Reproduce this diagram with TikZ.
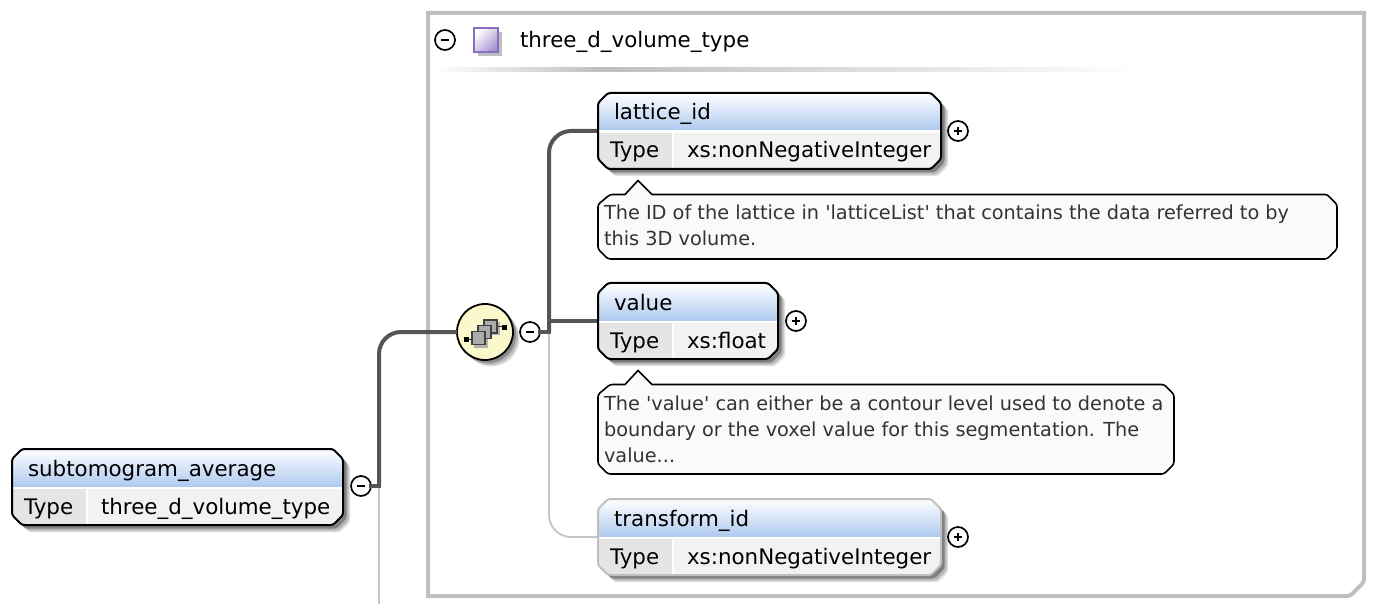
\documentclass[tikz,border=0pt]{standalone}
\usepackage{fontspec}
\setmainfont{DejaVu Sans}
\usetikzlibrary{calc}
\definecolor{frame}{HTML}{BFBFBF}
\definecolor{conn}{HTML}{555555}
\definecolor{connlight}{HTML}{C4C4C4}
\definecolor{headblue}{HTML}{AFCAF0}
\definecolor{celldark}{HTML}{E5E5E5}
\definecolor{celllight}{HTML}{F2F2F2}
\definecolor{docfill}{HTML}{FAFAFA}
\definecolor{doctext}{HTML}{333333}
\definecolor{compfill}{HTML}{FBF8CC}
\definecolor{purpleb}{HTML}{8A6FC0}
\newcommand{\titlefont}{\fontsize{21.4}{25}\selectfont}
\newcommand{\docfont}{\fontsize{19.3}{26}\selectfont}
\newcommand{\sq}{\textquotesingle}
\tikzset{
  anchorbox/.style={inner sep=0pt,outer sep=0pt,draw=none},
  label text/.style={anchor=base west,inner sep=0pt,outer sep=0pt,text=black,font=\titlefont},
  doc text/.style={anchor=base west,inner sep=0pt,outer sep=0pt,text=doctext,font=\docfont},
  toggle/.style={circle,draw=black,line width=1.7pt,fill=white,minimum size=20pt,inner sep=0pt,outer sep=0pt},
  strong link/.style={draw=conn,line width=4pt},
  weak link/.style={draw=connlight,line width=1.8pt},
  icon cell/.style={draw=black!75,line width=1.6pt,fill=black!33},
}
% name, x0, y0, x1, divider x, title, type, border colour
\newcommand{\elembox}[8]{%
  \def\octa{[rounded corners=2.5pt] (#2+10,#3) -- (#4-10,#3) -- (#4,#3+10) -- (#4,#3+66) -- (#4-10,#3+76)
     -- (#2+10,#3+76) -- (#2,#3+66) -- (#2,#3+10) -- cycle}%
  \fill[black!13,shift={(7pt,-7pt)}] \octa;
  \fill[black!28,shift={(5.5pt,-5.5pt)}] \octa;
  \fill[black!50,shift={(3.5pt,-3.5pt)}] \octa;
  \begin{scope}
    \clip \octa;
    \fill[white] (#2,#3) rectangle (#4,#3+76);
    \shade[top color=white,bottom color=headblue] (#2,#3) rectangle (#4,#3+37);
    \fill[celldark] (#2,#3+40) rectangle (#5-1,#3+76);
    \fill[celllight] (#5+1,#3+40) rectangle (#4,#3+76);
  \end{scope}
  \draw[draw=#8,line width=2pt] \octa;
  \node[anchorbox,minimum width=#4-#2,minimum height=76] (#1) at ({(#2+#4)/2},#3+38) {};
  \node[label text] (#1-title) at (#2+16,#3+27) {#6};
  \node[label text] (#1-key) at (#2+12,#3+65) {Type};
  \node[label text] (#1-type) at (#5+14,#3+65) {#7};
}
% name, x0, y0, x1, y1, apex x
\newcommand{\docbox}[6]{%
  \draw[fill=docfill,draw=black,line width=1.6pt,line join=round]
    (#6+14,#3) [rounded corners=2.5pt] -- (#4-10,#3) -- (#4,#3+10)
    -- (#4,#5-10) -- (#4-10,#5) -- (#2+10,#5) -- (#2,#5-10)
    -- (#2,#3+10) -- (#2+12,#3) [sharp corners] -- (#6-13,#3) -- (#6,#3-14) -- cycle;
  \node[anchorbox,minimum width=#4-#2,minimum height=#5-#3] (#1) at ({(#2+#4)/2},{(#3+#5)/2}) {};
}
\newcommand{\togglesign}[2]{\draw[black,line width=1.7pt] ($(#1)+(-4,0)$) -- ($(#1)+(4,0)$);
  \ifnum#2=1 \draw[black,line width=1.7pt] ($(#1)+(0,-4)$) -- ($(#1)+(0,4)$);\fi}
\begin{document}
\begin{tikzpicture}[x=1pt,y=-1pt]
\useasboundingbox (0,0) rectangle (1374,604);
\fill[white] (0,0) rectangle (1374,604);

% group frame
\draw[frame,line width=4pt] (428,13) -- (1364,13) [rounded corners=3pt] -- (1364,582) -- (1350,596) [sharp corners] -- (428,596) -- cycle;
\node[anchorbox,minimum width=936,minimum height=583] (group) at (896,304.5) {};
\shade[left color=white,right color=frame] (433,68) rectangle (600,72);
\shade[left color=frame,right color=white] (600,68) rectangle (1140,72);
\node[toggle] (grouptoggle) at (445,40) {};
\togglesign{grouptoggle}{0}
\fill[frame] (478,32) rectangle (502,56);
\shade[top color=white,bottom color=purpleb!75,shading angle=45,draw=purpleb,line width=2pt] (474,28) rectangle (498,52);
\node[anchorbox,minimum size=24] (groupicon) at (486,40) {};
\node[label text] (grouptitle) at (520,48) {three\_d\_volume\_type};

% connectors
\coordinate (elbowA) at (379,486);
\coordinate (elbowB) at (549,332);
\coordinate (tailA) at (379,604);

\node[toggle] (roottoggle) at (361,486) {};
\node[toggle] (seqtoggle) at (530,332) {};

\fill[black!12] (491.5,338.5) circle (28);
\fill[black!28] (490,337) circle (28);
\fill[black!45] (488,335) circle (28);
\node[circle,fill=compfill,draw=black,line width=1.8pt,minimum size=56,inner sep=0pt,outer sep=0pt] (seq) at (485,332) {};

\draw[weak link] (elbowA) -- (tailA);
\draw[weak link,rounded corners=22pt] (elbowB) |- (598,537) coordinate (toTransform);
\draw[strong link,line cap=rect] (roottoggle.east) -- (elbowA);
\draw[strong link,rounded corners=22pt] (elbowA) |- (seq.west);
\draw[strong link,line cap=rect] (seqtoggle.east) -- (elbowB);
\draw[strong link,rounded corners=22pt] (elbowB) |- (598,131) coordinate (toLattice);
\draw[strong link] (549,321) -- (598,321) coordinate (toValue);
\togglesign{roottoggle}{0}
\togglesign{seqtoggle}{0}

% compositor icon
\fill[black!30] (487,322) rectangle (500,335);
\fill[black!30] (474,334) rectangle (488,348);
\draw[line width=1.8pt,black!85] (497,326.5) -- (503,326.5);
\fill[black] (502,324.5) rectangle (507,329.5);
\draw[line width=1.8pt,black!85] (467,339.5) -- (472,339.5);
\fill[black] (464,337) rectangle (468.5,342);
\draw[icon cell] (484,320) rectangle (497,333);
\draw[icon cell] (478,325.5) rectangle (491,338.5);
\draw[icon cell] (472,331.5) rectangle (485,344.5);

% elements
\elembox{root}{12}{449}{343}{87}{subtomogram\_average}{three\_d\_volume\_type}{black}
\elembox{lattice}{598}{93}{941}{673}{lattice\_id}{xs:nonNegativeInteger}{black}
\elembox{val}{598}{283}{778}{673}{value}{xs:float}{black}
\elembox{transform}{598}{499}{941}{673}{transform\_id}{xs:nonNegativeInteger}{black!25}

% plus toggles
\node[toggle] (latticeplus) at (958,131) {};
\togglesign{latticeplus}{1}
\node[toggle] (valplus) at (796,321) {};
\togglesign{valplus}{1}
\node[toggle] (transformplus) at (958,537) {};
\togglesign{transformplus}{1}

% annotations
\docbox{latticedoc}{598}{194.5}{1337}{259}{638}
\node[doc text] (latticedoc1) at (604,220) {The ID of the lattice in \sq latticeList\sq{} that contains the data referred to by};
\node[doc text] (latticedoc2) at (604,246) {this 3D volume.};
\docbox{valdoc}{598}{384.5}{1174}{474}{638}
\node[doc text] (valdoc1) at (604,410) {The \sq value\sq{} can either be a contour level used to denote a};
\node[doc text] (valdoc2) at (604,436) {boundary or the voxel value for this segmentation. The};
\node[doc text] (valdoc3) at (604,462) {value...};
\end{tikzpicture}
\end{document}
